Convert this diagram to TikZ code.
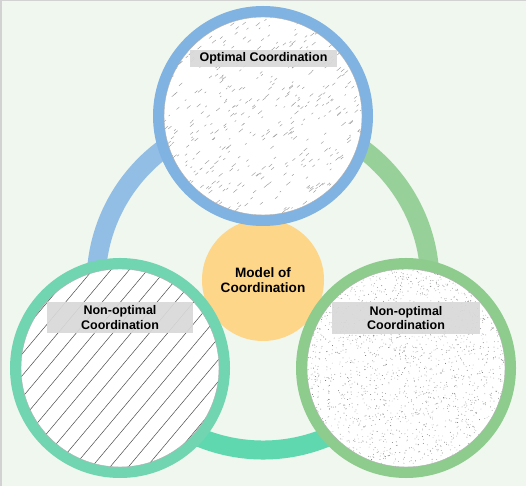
\documentclass[tikz,border=0pt]{standalone}
\usepackage{fontspec}
\setmainfont{Liberation Sans}
\definecolor{bg}{HTML}{F0F7EE}
\definecolor{ringblue}{HTML}{92BEE6}
\definecolor{ringgreen}{HTML}{98D09A}
\definecolor{ringteal}{HTML}{5FD8B0}
\definecolor{topblue}{HTML}{80B3E2}
\definecolor{leftteal}{HTML}{72D5B2}
\definecolor{rightgreen}{HTML}{8ECC8E}
\definecolor{modelorange}{HTML}{FDD68A}
\definecolor{tagfill}{HTML}{D9D9D9}

\begin{document}
\begin{tikzpicture}[x=1pt,y=1pt,
  bubble/.style={circle,minimum size=209pt,line width=11pt,inner sep=0pt,fill=white},
  tag/.style={fill=tagfill,fill opacity=.92,text opacity=1,inner sep=0pt,align=center,
    font=\bfseries\fontsize{12.5}{14.5}\selectfont},
  loopline/.style={line width=19pt}]
\useasboundingbox (0,0) rectangle (526,486);
\fill[bg] (0,0) rectangle (526,486);
\draw[gray!35,line width=1.5pt] (0.75,0) -- (0.75,485.25) -- (526,485.25);
\coordinate (hub) at (263,203);
\draw[loopline,ringblue] (hub) ++(90:167) arc[radius=167,start angle=90,end angle=210];
\draw[loopline,ringgreen] (hub) ++(90:167) arc[radius=167,start angle=90,end angle=-30];
\draw[loopline,ringteal] (hub) ++(210:167) arc[radius=167,start angle=210,end angle=330];
\node[circle,fill=modelorange,minimum size=122pt,inner sep=0pt,align=center,
  font=\bfseries\fontsize{13.6}{15.2}\selectfont] (model) at (263,206) {Model of\\Coordination};
\node[bubble,draw=topblue] (optimal) at (263,370) {};
\node[bubble,draw=leftteal] (nonleft) at (120,118) {};
\node[bubble,draw=rightgreen] (nonright) at (406,118) {};
\pgfmathsetseed{11}
\begin{scope}[shift={(optimal.center)}]
\clip (0,0) circle (99);
\foreach \i in {1,...,480}{
  \pgfmathsetmacro\px{rand*100}\pgfmathsetmacro\py{rand*100}\pgfmathsetmacro\len{1.5+4*rnd}
  \draw[black!38,line width=.45pt] (\px,\py) -- ++(40:\len);
}
\end{scope}
\begin{scope}[shift={(nonleft.center)}]
\clip (0,0) circle (99);
\begin{scope}[rotate=50]
\foreach \k in {-98,-84,...,98}
  \draw[black!70,line width=.5pt] (-110,\k) -- (110,\k);
\end{scope}
\end{scope}
\begin{scope}[shift={(nonright.center)}]
\clip (0,0) circle (99);
\foreach \i in {1,...,2200}{
  \pgfmathsetmacro\px{rand*99}\pgfmathsetmacro\py{rand*99}\pgfmathsetmacro\shade{20+40*rnd}
  \fill[black!\shade] (\px,\py) circle (.45);
}
\end{scope}
\foreach \b in {optimal,nonleft,nonright}
  \draw[gray!60,line width=.4pt] (\b.center) circle (99);
\node[tag,minimum width=147pt,minimum height=17pt] (optimaltag) at (263.5,427.5) {Optimal Coordination};
\node[tag,minimum width=146pt,minimum height=31pt] (lefttag) at (120,168.5) {Non-optimal\\Coordination};
\node[tag,minimum width=148pt,minimum height=32pt] (righttag) at (406,168) {Non-optimal\\Coordination};
\end{tikzpicture}
\end{document}
